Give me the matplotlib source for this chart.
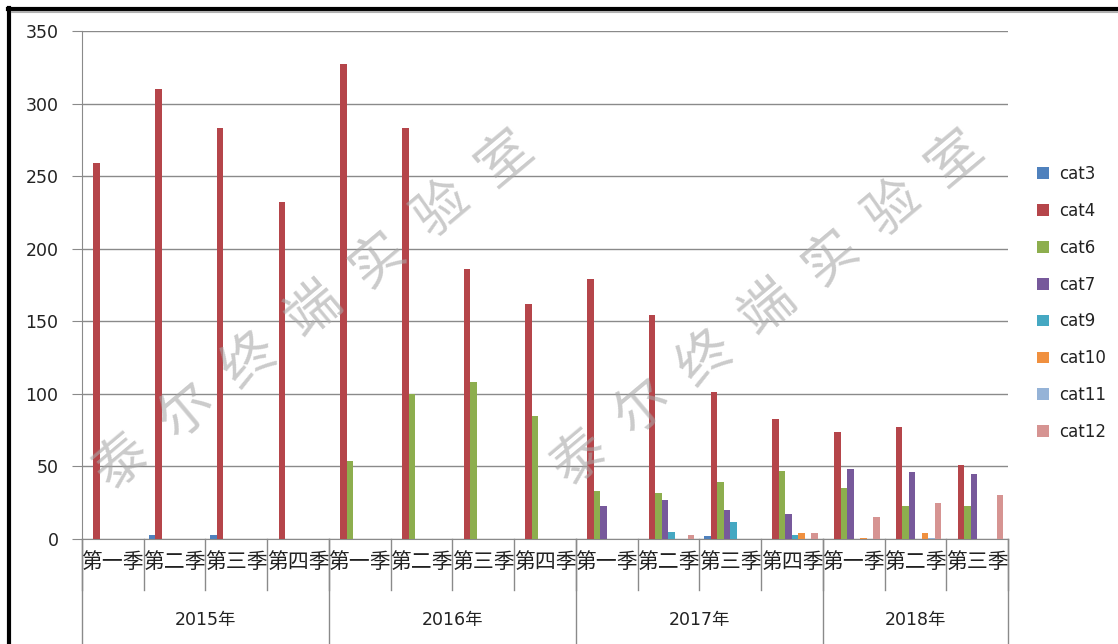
import numpy as np
import matplotlib.pyplot as plt
from matplotlib.lines import Line2D

plt.rcParams['font.family'] = ['DejaVu Sans', 'Noto Sans CJK SC']

# 数据
quarters = ['第一季', '第二季', '第三季', '第四季'] * 3 + ['第一季', '第二季', '第三季']
years = ['2015年', '2016年', '2017年', '2018年']
year_counts = [4, 4, 4, 3]

series_names = ['cat3', 'cat4', 'cat6', 'cat7', 'cat9', 'cat10', 'cat11', 'cat12']
cat3 = [0, 3, 3, 0, 0, 0, 0, 0, 0, 0, 2, 0, 0, 0, 0]
cat4 = [259, 310, 283, 232, 327, 283, 186, 162, 179, 154, 101, 83, 74, 77, 51]
cat6 = [0, 0, 0, 0, 54, 100, 108, 85, 33, 32, 39, 47, 35, 23, 23]
cat7 = [0, 0, 0, 0, 0, 0, 0, 0, 23, 27, 20, 17, 48, 46, 45]
cat9 = [0, 0, 0, 0, 0, 0, 0, 0, 0, 5, 12, 3, 0, 0, 0]
cat10 = [0, 0, 0, 0, 0, 0, 0, 0, 0, 0, 0, 4, 1, 4, 0]
cat11 = [0, 0, 0, 0, 0, 0, 0, 0, 0, 0, 0, 0, 0, 1, 0]
cat12 = [0, 0, 0, 0, 0, 0, 0, 0, 0, 3, 0, 4, 15, 25, 30]
series = [cat3, cat4, cat6, cat7, cat9, cat10, cat11, cat12]
colors = ['#4F81BD', '#B5454A', '#8DAE4E', '#77599B', '#45A8C2', '#F0903F', '#95B3D7', '#D69492']

fig = plt.figure(figsize=(11.18, 6.44), dpi=100)
ax = fig.add_axes([82 / 1118, 1 - 539 / 644, (1008 - 82) / 1118, 508 / 644])

n = len(quarters)
x = np.arange(n)
w = 0.843 / len(series)
for j, (name, vals, c) in enumerate(zip(series_names, series, colors)):
    ax.bar(x + (j - 3.5) * w, vals, w, color=c, label=name, zorder=3)

ax.set_xlim(-0.5, n - 0.5)
ax.set_ylim(0, 350)
ax.set_yticks(range(0, 351, 50))
ax.yaxis.grid(True, color='#8a8a8a', lw=1)
ax.tick_params(axis='y', length=7, color='#8a8a8a', labelsize=12.5, labelcolor='#222222', pad=10)
ax.set_xticks([])
for s in ['top', 'right']:
    ax.spines[s].set_visible(False)
ax.spines['left'].set_color('#8a8a8a')
ax.spines['bottom'].set_color('#8a8a8a')

# 多级分类轴
tr = ax.get_xaxis_transform()
for i in range(n + 1):
    ax.plot([i - 0.5, i - 0.5], [0, -0.1], color='#8a8a8a', lw=1, transform=tr, clip_on=False)
for i, q in enumerate(quarters):
    ax.text(i, -0.045, q, transform=tr, ha='center', va='center', fontsize=15,
            family=['Noto Sans CJK SC'], color='#222222')
start = 0
for y, cnt in zip(years, year_counts):
    ax.plot([start - 0.5, start - 0.5], [0, -0.22], color='#8a8a8a', lw=1, transform=tr, clip_on=False)
    ax.text(start + cnt / 2 - 0.5, -0.16, y, transform=tr, ha='center', va='center',
            fontsize=12.5, color='#222222')
    start += cnt
ax.plot([start - 0.5, start - 0.5], [0, -0.22], color='#8a8a8a', lw=1, transform=tr, clip_on=False)

# 图例
ax.legend(loc='center left', bbox_to_anchor=(1022 / 1118, 1 - 303 / 644), bbox_transform=fig.transFigure,
          frameon=False, fontsize=12, handlelength=0.7, handleheight=0.7, handletextpad=0.6,
          labelspacing=1.13, labelcolor='#222222')

# 水印
mark = '泰尔终端实验室'
for (x0, y0), (x1, y1) in [((122, 462), (505, 158)), ((580, 458), (955, 158))]:
    for k, ch in enumerate(mark):
        px = x0 + (x1 - x0) * k / 6
        py = y0 + (y1 - y0) * k / 6
        fig.text(px / 1118, 1 - py / 644, ch, rotation=40, ha='center', va='center',
                 fontsize=39, family=['Noto Sans CJK SC'], color='#a8a8a8', alpha=0.6, zorder=10)

# 外框
fig.add_artist(Line2D([8 / 1118, 1], [1 - 9 / 644, 1 - 9 / 644], color='black', lw=3))
fig.add_artist(Line2D([9 / 1118, 9 / 1118], [0, 1 - 8 / 644], color='black', lw=3))
fig.add_artist(Line2D([12 / 1118, 1], [1 - 12 / 644, 1 - 12 / 644], color='#b0b0b0', lw=1.5))

fig.savefig('out.png', dpi=100)
